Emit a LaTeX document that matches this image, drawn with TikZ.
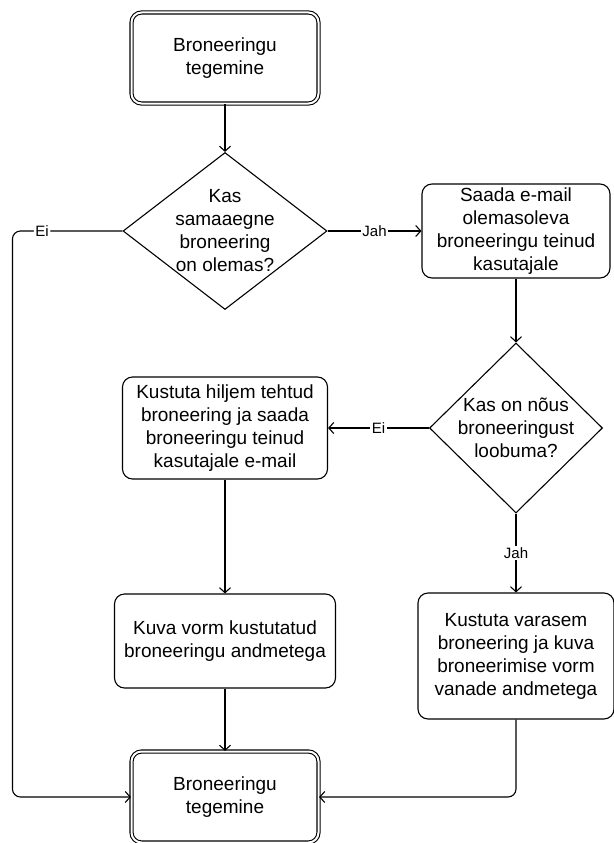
\documentclass[tikz,border=0pt]{standalone}
\usepackage{fontspec}
\setmainfont{Liberation Sans}
\usetikzlibrary{shapes.geometric,arrows.meta}
\newcommand{\boxfont}{\fontsize{19}{23}\selectfont}
\newcommand{\lblfont}{\fontsize{15}{18}\selectfont}
\tikzset{
  stepbox/.style={draw, rounded corners=10pt, align=center, inner sep=0pt, font=\boxfont},
  endbox/.style={stepbox, double, double distance=2pt, minimum width=187pt, minimum height=91pt},
  decision/.style={draw, diamond, align=center, inner sep=-20pt, font=\boxfont},
  lbl/.style={fill=white, inner sep=1.5pt, font=\lblfont}
}

\begin{document}
\begin{tikzpicture}[x=1pt, y=-1pt, line width=1.1pt, >={Straight Barb[length=5pt,width=11pt]}]
        \useasboundingbox (0,0) rectangle (613,843);
        \node[endbox] (Start) at (225,58) {Broneeringu\\ tegemine};
        \node[decision, minimum width=204pt, minimum height=157pt] (Same) [below of=Start, node distance=173pt] {Kas\\ samaaegne\\ broneering\\ on olemas?};
        \node[stepbox, minimum width=188pt, minimum height=94pt] (Mail) [right of=Same, node distance=291pt] {Saada e-mail\\ olemasoleva\\ broneeringu teinud\\ kasutajale};
        \node[decision, minimum width=173pt, minimum height=170pt] (Agree) [below of=Mail, node distance=197pt] {Kas on nõus\\ broneeringust\\ loobuma?};
        \node[stepbox, minimum width=205pt, minimum height=102pt] (Late) [left of=Agree, node distance=291pt] {Kustuta hiljem tehtud\\ broneering ja saada\\ broneeringu teinud\\ kasutajale e-mail};
        \node[stepbox, minimum width=221pt, minimum height=94pt] (Show) [below of=Late, node distance=213pt] {Kuva vorm kustutatud\\ broneeringu andmetega};
        \node[stepbox, minimum width=196pt, minimum height=126pt] (Early) [below of=Agree, node distance=228pt] {Kustuta varasem\\ broneering ja kuva\\ broneerimise vorm\\ vanade andmetega};
        \node[endbox] (End) [below of=Show, node distance=156pt] {Broneeringu\\ tegemine};

        \draw[->] (Start) -- (Same);
        \draw[->] (Same) -- node[lbl] {Jah} (Mail);
        \draw[->] (Mail) -- (Agree);
        \draw[->] (Agree) -- node[lbl] {Ei} (Late);
        \draw[->] (Agree) -- node[lbl] {Jah} (Early);
        \draw[->] (Late) -- (Show);
        \draw[->] (Show) -- (End);
        \draw[->, rounded corners=8pt] (Early.south) |- (End.east);
        \draw[->, rounded corners=8pt] (Same.west) -- node[lbl, pos=0.73] {Ei} ++(-110,0) |- (End.west);
    \end{tikzpicture}
\end{document}
